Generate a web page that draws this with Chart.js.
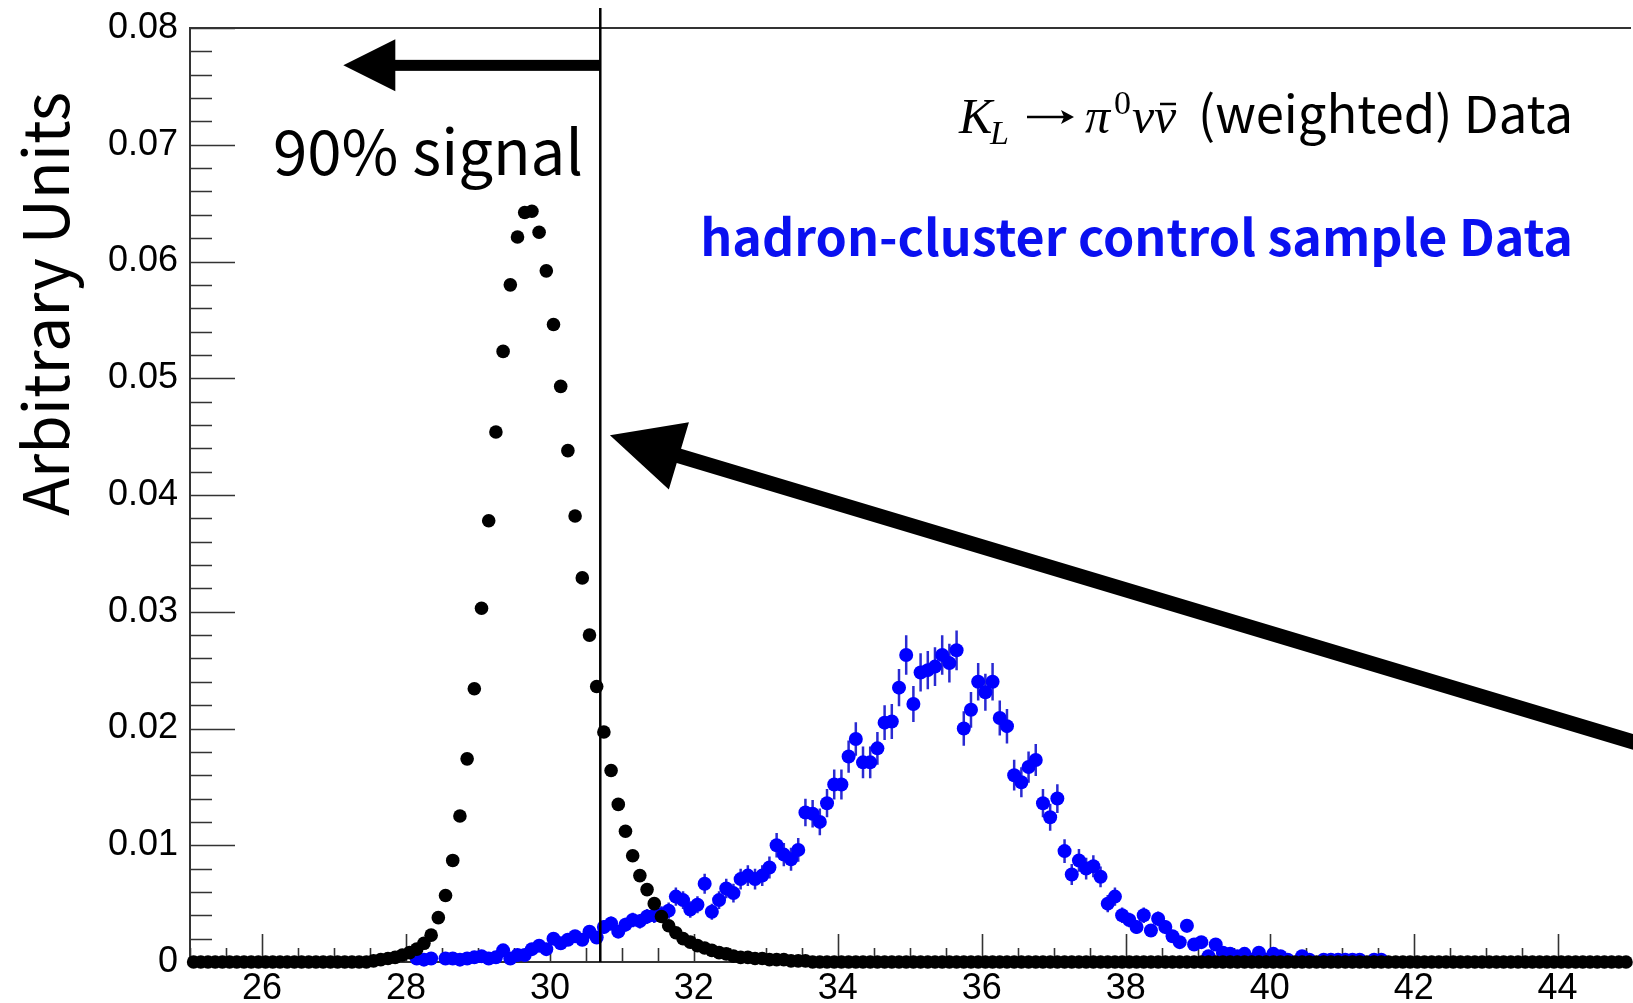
<!DOCTYPE html>
<html><head><meta charset="utf-8">
<script src="https://cdn.jsdelivr.net/npm/chart.js@4.4.1/dist/chart.umd.min.js"></script>
<style>html,body{margin:0;padding:0;background:#fff;overflow:hidden}#wrap{width:1633px;height:1003px;position:relative}</style>
</head><body><div id="wrap"><canvas id="c" width="1633" height="1003"></canvas></div>
<script>
// ---- binning (0.1 wide bins starting at 25) ----
const binLow = 25.0;
const binWidth = 0.1;

// ---- tick labels ----
const xTickLabels = [26, 28, 30, 32, 34, 36, 38, 40, 42, 44];
const yTickLabels = ['0', '0.01', '0.02', '0.03', '0.04', '0.05', '0.06', '0.07', '0.08'];

// ---- K_L -> pi0 nu nubar (weighted) Data, one value per bin ----
const signalVals = [
  0,0,0,0,0,0,0,0,0,0,
  0,0,0,0,0,0,0,0,0,0,
  0,0,0,0,0,0.0001,0.0002,0.0003,0.0004,0.0006,
  0.0008,0.0011,0.0016,0.0023,0.0038,0.0057,0.0087,0.0125,0.0174,0.0234,
  0.0303,0.0378,0.0454,0.0523,0.0580,0.0621,0.0642,0.0643,0.0625,0.0592,
  0.0546,0.0493,0.0438,0.0382,0.0329,0.0280,0.0236,0.0197,0.0164,0.0135,
  0.0112,0.0091,0.0074,0.0062,0.0050,0.0039,0.0031,0.0025,0.0020,0.0017,
  0.0014,0.0012,0.0010,0.0008,0.0007,0.0005,0.0004,0.0004,0.0003,0.0003,
  0.0002,0.0002,0.0002,0.0001,0.0001,0.0001,0,0,0,0,
  0,0,0,0,0,0,0,0,0,0,
  0,0,0,0,0,0,0,0,0,0,
  0,0,0,0,0,0,0,0,0,0,
  0,0,0,0,0,0,0,0,0,0,
  0,0,0,0,0,0,0,0,0,0,
  0,0,0,0,0,0,0,0,0,0,
  0,0,0,0,0,0,0,0,0,0,
  0,0,0,0,0,0,0,0,0,0,
  0,0,0,0,0,0,0,0,0,0,
  0,0,0,0,0,0,0,0,0,0,
  0,0,0,0,0,0,0,0,0,0
];

// ---- hadron-cluster control sample Data (null = empty bin) ----
const controlVals = [
  null,null,null,null,null,null,null,null,null,null,
  null,null,null,null,null,null,null,null,null,null,
  null,null,null,null,null,null,null,null,null,null,
  null,0.0003,0.0002,0.0003,null,0.0003,0.0003,0.0002,0.0003,0.0004,
  0.0005,0.0003,0.0004,0.0010,0.0003,0.0006,0.0006,0.0011,0.0014,0.0011,
  0.0020,0.0016,0.0019,0.0022,0.0019,0.0026,0.0021,0.0030,0.0033,0.0026,
  0.0032,0.0036,0.0035,0.0039,0.0040,0.0041,0.0044,0.0056,0.0053,0.0045,
  0.0049,0.0067,0.0043,0.0053,0.0063,0.0059,0.0071,0.0074,0.0071,0.0074,
  0.0081,0.0100,0.0092,0.0088,0.0096,0.0128,0.0127,0.0120,0.0136,0.0152,
  0.0152,0.0176,0.0191,0.0171,0.0171,0.0183,0.0205,0.0206,0.0235,0.0263,
  0.0221,0.0248,0.0250,0.0253,0.0263,0.0256,0.0267,0.0200,0.0216,0.0240,
  0.0231,0.0240,0.0209,0.0202,0.0160,0.0154,0.0167,0.0173,0.0136,0.0124,
  0.0140,0.0095,0.0075,0.0087,0.0080,0.0082,0.0073,0.0050,0.0056,0.0040,
  0.0036,0.0030,0.0040,0.0027,0.0037,0.0030,0.0022,0.0017,0.0031,0.0015,
  0.0017,0.0005,0.0015,0.0008,0.0007,0.0005,0.0007,0.0002,0.0008,0.0002,
  0.0007,0.0005,0.0002,null,0.0005,0.0002,null,0.0002,0.0002,0.0002,
  0.0002,0.0002,0.0002,null,0.0002,0.0002,null,null,null,null,
  null,null,null,null,null,null,null,null,null,null,
  null,null,null,null,null,null,null,null,null,null,
  null,null,null,null,null,null,null,null,null,null
];

// ---- statistical error of the control sample, per bin ----
const controlErrs = [
  null,null,null,null,null,null,null,null,null,null,
  null,null,null,null,null,null,null,null,null,null,
  null,null,null,null,null,null,null,null,null,null,
  null,0.00018,0.00015,0.00018,null,0.00018,0.00018,0.00015,0.00018,0.0002,
  0.00023,0.00018,0.0002,0.00033,0.00018,0.00025,0.00025,0.00034,0.00039,0.00034,
  0.00047,0.00042,0.00045,0.00049,0.00045,0.00053,0.00048,0.00057,0.0006,0.00053,
  0.00059,0.00062,0.00062,0.00065,0.00066,0.00067,0.00069,0.00078,0.00076,0.0007,
  0.00073,0.00085,0.00068,0.00076,0.00083,0.0008,0.00088,0.00089,0.00088,0.00089,
  0.00094,0.00104,0.001,0.00098,0.00102,0.00118,0.00117,0.00114,0.00121,0.00128,
  0.00128,0.00138,0.00144,0.00136,0.00136,0.00141,0.00149,0.00149,0.00159,0.00169,
  0.00155,0.00164,0.00164,0.00165,0.00169,0.00166,0.0017,0.00147,0.00153,0.00161,
  0.00158,0.00161,0.0015,0.00148,0.00132,0.00129,0.00134,0.00137,0.00121,0.00116,
  0.00123,0.00101,0.0009,0.00097,0.00093,0.00094,0.00089,0.00074,0.00078,0.00066,
  0.00062,0.00057,0.00066,0.00054,0.00063,0.00057,0.00049,0.00043,0.00058,0.0004,
  0.00043,0.00023,0.0004,0.00029,0.00028,0.00023,0.00028,0.00015,0.00029,0.00015,
  0.00028,0.00023,0.00015,null,0.00023,0.00015,null,0.00015,0.00015,0.00015,
  0.00015,0.00015,0.00015,null,0.00015,0.00015,null,null,null,null,
  null,null,null,null,null,null,null,null,null,null,
  null,null,null,null,null,null,null,null,null,null,
  null,null,null,null,null,null,null,null,null,null
];

const cutValue = 30.7;   // 90% signal cut

// ---- build library data ----
const binCenters = signalVals.map((_, i) => binLow + (i + 0.5) * binWidth);
const signalData = signalVals.map((v, i) => ({x: binCenters[i], y: v}));
const controlData = [];
controlVals.forEach((v, i) => { if (v !== null) controlData.push({x: binCenters[i], y: v}); });

const SANS = "'Noto Sans CJK JP','Noto Sans',sans-serif";
const SERIF = "'Liberation Serif','DejaVu Serif',serif";
const TICKFONT = "'Liberation Sans',Arial,sans-serif";

function isMult(v, step) { const r = v / step; return Math.abs(r - Math.round(r)) < 1e-6; }
function fitSize(ctx, text, weight, family, targetW) {
  ctx.font = weight + ' 100px ' + family;
  return 100 * targetW / ctx.measureText(text).width;
}

const frameTicks = {
  id: 'frameTicks',
  beforeDatasetsDraw(chart) {
    const {ctx, chartArea: ca, scales: {x: xs, y: ys}} = chart;
    ctx.save();
    ctx.strokeStyle = '#333';
    ctx.lineWidth = 1.6;
    ctx.beginPath();
    xs.ticks.forEach(t => {
      if (!isMult(t.value, 0.5)) return;
      const px = Math.round(xs.getPixelForValue(t.value)) + 0.5;
      const len = isMult(t.value, 2) ? 28 : 14;
      ctx.moveTo(px, ca.bottom); ctx.lineTo(px, ca.bottom - len);
    });
    ys.ticks.forEach(t => {
      const py = Math.round(ys.getPixelForValue(t.value)) + 0.5;
      const len = isMult(t.value, 0.01) ? 45 : 22;
      ctx.moveTo(ca.left, py); ctx.lineTo(ca.left + len, py);
    });
    ctx.stroke();
    ctx.lineWidth = 2;
    ctx.beginPath();
    ctx.moveTo(ca.right + 5, ca.top); ctx.lineTo(ca.left, ca.top);
    ctx.lineTo(ca.left, ca.bottom); ctx.lineTo(ca.right + 5, ca.bottom);
    ctx.stroke();
    ctx.restore();
  },
  beforeDatasetDraw(chart, args) {
    if (args.index !== 1) return;
    const {ctx, scales: {x: xs, y: ys}} = chart;
    ctx.save();
    ctx.strokeStyle = '#2a2ad2';
    ctx.lineWidth = 2.5;
    ctx.beginPath();
    controlVals.forEach((v, i) => {
      const e = controlErrs[i];
      if (v === null || e === null) return;
      const px = xs.getPixelForValue(binCenters[i]);
      ctx.moveTo(px, ys.getPixelForValue(v - e));
      ctx.lineTo(px, ys.getPixelForValue(v + e));
    });
    ctx.stroke();
    ctx.restore();
  }
};

const annotations = {
  id: 'annotations',
  afterDatasetsDraw(chart) {
    const {ctx, chartArea: ca, scales: {x: xs, y: ys}} = chart;
    ctx.save();
    // cut line
    const cx = xs.getPixelForValue(cutValue);
    ctx.strokeStyle = '#000'; ctx.lineWidth = 2.5;
    ctx.beginPath(); ctx.moveTo(cx, 8); ctx.lineTo(cx, ca.bottom); ctx.stroke();

    ctx.fillStyle = '#000';
    // horizontal arrow toward lower values
    const hy = ys.getPixelForValue(0.0768);
    const htip = xs.getPixelForValue(27.13);
    const hbase = htip + 52;
    ctx.fillRect(hbase - 1, hy - 5.5, cx - hbase + 1, 11);
    ctx.beginPath(); ctx.moveTo(htip, hy); ctx.lineTo(hbase, hy - 26); ctx.lineTo(hbase, hy + 26); ctx.closePath(); ctx.fill();

    // diagonal arrow pointing at the cut line
    const tx = xs.getPixelForValue(30.834), ty = ys.getPixelForValue(0.04512);
    const dx = 1021, dy = 306, L = Math.hypot(dx, dy);
    const ux = dx / L, uy = dy / L, nx = -uy, ny = ux;
    const hl = 72, hw = 35, sw = 7.5;
    const bx = tx + ux * hl, by = ty + uy * hl;
    ctx.beginPath();
    ctx.moveTo(tx, ty);
    ctx.lineTo(bx + nx * hw, by + ny * hw);
    ctx.lineTo(bx + nx * sw, by + ny * sw);
    ctx.lineTo(bx + ux * 1400 + nx * sw, by + uy * 1400 + ny * sw);
    ctx.lineTo(bx + ux * 1400 - nx * sw, by + uy * 1400 - ny * sw);
    ctx.lineTo(bx - nx * sw, by - ny * sw);
    ctx.lineTo(bx - nx * hw, by - ny * hw);
    ctx.closePath(); ctx.fill();

    // "90% signal"
    let s = fitSize(ctx, '90% signal', 'normal', SANS, 310);
    ctx.font = 'normal ' + s + 'px ' + SANS;
    ctx.textAlign = 'left'; ctx.textBaseline = 'alphabetic';
    ctx.fillText('90% signal', 273, 175);

    // Y axis title
    s = fitSize(ctx, 'Arbitrary Units', 'normal', SANS, 424);
    ctx.save();
    ctx.translate(23 + 0.735 * s, 304);
    ctx.rotate(-Math.PI / 2);
    ctx.font = 'normal ' + s + 'px ' + SANS;
    ctx.textAlign = 'center';
    ctx.fillText('Arbitrary Units', 0, 0);
    ctx.restore();

    // K_L -> pi0 nu nubar (weighted) Data
    const bl = 133;
    ctx.textAlign = 'left';
    ctx.font = 'italic 50px ' + SERIF; ctx.fillText('K', 959, bl);
    ctx.font = 'italic 34px ' + SERIF; ctx.fillText('L', 990, bl + 11);
    // arrow symbol
    ctx.strokeStyle = '#000'; ctx.lineWidth = 2.5;
    ctx.beginPath(); ctx.moveTo(1027, 117); ctx.lineTo(1066, 117); ctx.stroke();
    ctx.beginPath(); ctx.moveTo(1074, 117); ctx.lineTo(1061, 110); ctx.lineTo(1064, 117); ctx.lineTo(1061, 124); ctx.closePath(); ctx.fill();
    ctx.font = 'italic 50px ' + SERIF; ctx.fillText('\u03C0', 1085, bl);
    ctx.font = '34px ' + SERIF; ctx.fillText('0', 1114, bl - 19);
    ctx.font = 'italic 50px ' + SERIF; ctx.fillText('\u03BD', 1132, bl);
    ctx.fillText('\u03BD', 1154, bl);
    ctx.lineWidth = 2.5;
    ctx.beginPath(); ctx.moveTo(1160, 104); ctx.lineTo(1176, 104); ctx.stroke();
    s = fitSize(ctx, '(weighted) Data', 'normal', SANS, 375);
    ctx.font = 'normal ' + s + 'px ' + SANS;
    ctx.textAlign = 'right';
    ctx.fillText('(weighted) Data', 1573, bl);

    // blue label
    s = fitSize(ctx, 'hadron-cluster control sample Data', 'bold', SANS, 873);
    ctx.font = 'bold ' + s + 'px ' + SANS;
    ctx.fillStyle = '#0a10f0';
    ctx.fillText('hadron-cluster control sample Data', 1573, 256);
    ctx.restore();
  }
};

function zeroPad(sc) { sc.paddingTop = 0; sc.paddingBottom = 0; sc.paddingLeft = 0; sc.paddingRight = 0; }

new Chart(document.getElementById('c'), {
  type: 'scatter',
  data: {
    datasets: [
      {label: 'signal', data: signalData, backgroundColor: '#000', borderWidth: 0,
       pointRadius: 6.8, pointHoverRadius: 6.8, clip: false},
      {label: 'control', data: controlData, backgroundColor: '#0000ff', borderWidth: 0,
       pointRadius: 7, pointHoverRadius: 7, clip: false}
    ]
  },
  options: {
    responsive: false,
    animation: false,
    events: [],
    layout: {padding: {top: 28, right: 0, left: 0, bottom: 0}},
    plugins: {legend: {display: false}, tooltip: {enabled: false}},
    scales: {
      x: {
        type: 'linear', min: 25, max: 44.95,
        grid: {display: false, drawTicks: false},
        border: {display: false},
        ticks: {
          stepSize: 0.5, autoSkip: false, maxRotation: 0, padding: 5,
          color: '#000', font: {family: TICKFONT, size: 36},
          callback: (v) => xTickLabels.find(t => Math.abs(t - v) < 1e-6) !== undefined ? String(Math.round(v)) : ''
        },
        afterFit: (sc) => { sc.height = 41; zeroPad(sc); }
      },
      y: {
        type: 'linear', min: 0, max: 0.08,
        grid: {display: false, drawTicks: false},
        border: {display: false},
        ticks: {
          stepSize: 0.002, autoSkip: false, padding: 12,
          color: '#000', font: {family: TICKFONT, size: 36},
          callback: (v) => isMult(v, 0.01) ? yTickLabels[Math.round(v / 0.01)] : ''
        },
        afterFit: (sc) => { sc.width = 190; zeroPad(sc); }
      }
    }
  },
  plugins: [frameTicks, annotations]
});
</script></body></html>
